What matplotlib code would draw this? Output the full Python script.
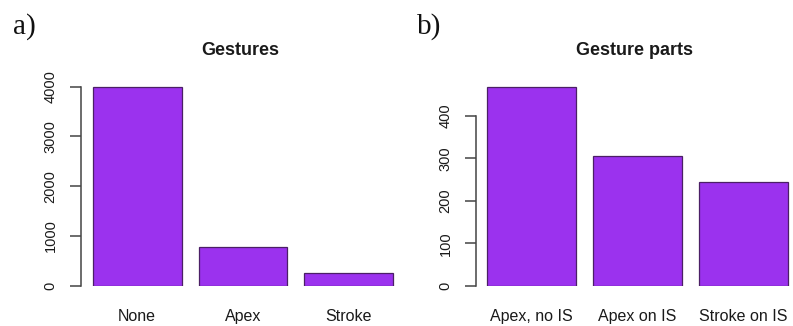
import matplotlib
matplotlib.use("Agg")
import matplotlib.pyplot as plt

# Counts of gesture annotations
gesture_labels = ["None", "Apex", "Stroke"]
gesture_counts = [4000, 778, 249]
gesture_ticks = [0, 1000, 2000, 3000, 4000]

# Counts of gesture parts relative to the IS
part_labels = ["Apex, no IS", "Apex on IS", "Stroke on IS"]
part_counts = [468, 306, 243]
part_ticks = [0, 100, 200, 300, 400]

W, H = 793, 326
fig = plt.figure(figsize=(W / 100, H / 100), dpi=100)
plt.rcParams["font.family"] = ["Liberation Sans", "DejaVu Sans"]

BAR = "#9b32ee"
EDGE = "#4b1f66"
AXIS = "#444444"
TEXT = "#1a1a1a"


def px_axes(x0, x1, y_top, y_bottom):
    return fig.add_axes([x0 / W, 1 - y_bottom / H, (x1 - x0) / W, (y_bottom - y_top) / H])


def panel(ax, labels, counts, ticks, title, xlim, ylim):
    pos = range(len(labels))
    ax.bar(pos, counts, width=0.84, color=BAR, edgecolor=EDGE, linewidth=0.9)
    ax.set_xlim(*xlim)
    ax.set_ylim(*ylim)
    for s in ("top", "right", "bottom"):
        ax.spines[s].set_visible(False)
    ax.spines["left"].set_bounds(ticks[0], ticks[-1])
    ax.spines["left"].set_color(AXIS)
    ax.spines["left"].set_linewidth(1.1)
    ax.set_yticks(ticks)
    ax.set_yticklabels([str(t) for t in ticks], rotation=90, va="center",
                       fontsize=10.5, color=TEXT)
    ax.tick_params(axis="y", length=8, width=1.1, color=AXIS, pad=9)
    ax.set_xticks(list(pos))
    ax.set_xticklabels(labels, fontsize=11.5, color=TEXT)
    ax.tick_params(axis="x", length=0, pad=17)
    ax.set_title(title, fontsize=13, fontweight="bold", color=TEXT, pad=18)
    ax.patch.set_alpha(0)


ax1 = px_axes(81, 400, 80, 285.7)
panel(ax1, gesture_labels, gesture_counts, gesture_ticks, "Gestures",
      (-0.531, 2.484), (0, 4135))

ax2 = px_axes(476, 793, 80, 285.7)
panel(ax2, part_labels, part_counts, part_ticks, "Gesture parts",
      (-0.525, 2.466), (0, 484))

fig.text(13 / W, 1 - 33.3 / H, "a)", fontsize=21, family="Liberation Serif",
         va="baseline", ha="left", color="#111111")
fig.text(417 / W, 1 - 33.3 / H, "b)", fontsize=21, family="Liberation Serif",
         va="baseline", ha="left", color="#111111")

fig.savefig("out.png", dpi=100)
